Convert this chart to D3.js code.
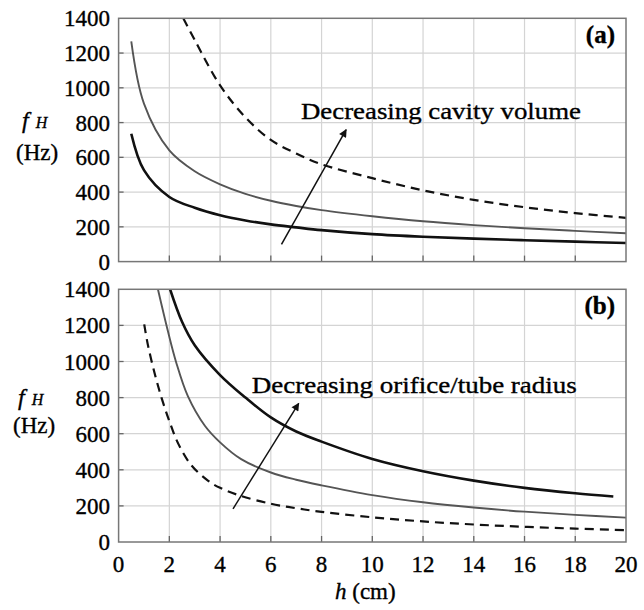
<!DOCTYPE html>
<meta charset="utf-8">
<style>
body{
  margin: 0;
  background: #fff;
}
svg{
  display: block;
  background-color: #fff;
}
text{
  font-family: "Liberation Serif", "Times New Roman", serif;
  fill: #000;
  stroke: #000;
  stroke-width: 0.35px;
}
</style>

<svg width="644" height="610"></svg>
<script src="https://d3js.org/d3.v7.min.js"></script>
<script>

// tick values
var xTicks = [0, 2, 4, 6, 8, 10, 12, 14, 16, 18, 20];
var yTicks = [0, 200, 400, 600, 800, 1000, 1200, 1400];

// panel (a): varying cavity volume, [h (cm), fH (Hz)]
var aBlack = [[0.5,736],[1,526],[2,372],[3,310],[4,267],[5,237],[6,214],[7,197],[8,181],[10,158],[12,143],[14,132],[16,123],[18,115],[20,107]];
var aGray  = [[0.5,1267],[1,909],[2,640],[3,520],[4,445],[5,390],[6,350],[7,320],[8,296],[10,261],[12,232],[14,210],[16,192],[18,177],[20,163]];
var aDash  = [[2.55,1400],[3,1275],[4,1014],[5,830],[6,700],[7,622],[8,560],[10,480],[12,410],[14,355],[16,313],[18,279],[20,252]];

// panel (b): varying orifice/tube radius
var bBlack = [[2.03,1400],[2.5,1220],[3,1090],[4,925],[5,800],[6,690],[7,612],[8,556],[10,460],[12,392],[14,340],[16,300],[18,270],[19.5,252]];
var bGray  = [[1.55,1400],[1.94,1170],[2.27,995],[2.73,808],[3.4,644],[4,552],[4.83,459],[6,385],[7,345],[8,314],[10,260],[12,220],[14,191],[16,168],[18,150],[20,135]];
var bDash  = [[1.01,1206],[1.15,1095],[1.42,935],[1.69,800],[2,670],[2.35,545],[2.87,425],[3.52,340],[4,300],[4.83,255],[6,212],[7,187],[8,167],[10,137],[12,114],[14,97],[16,84],[18,74],[20,66]];

var svg = d3.select("svg");

var x = d3.scaleLinear().domain([0, 20]).range([118.6, 626]);

var panels = [
  {id: "a", top: 18.3, bottom: 261.6, label: "(a)",
   series: [aDash, aGray, aBlack],
   note: "Decreasing cavity volume", noteAt: [7.19, 820], noteLen: 280,
   arrow: [[6.42, 99], [8.97, 759]]},
  {id: "b", top: 289.3, bottom: 542, label: "(b)",
   series: [bDash, bGray, bBlack],
   note: "Decreasing orifice/tube radius", noteAt: [5.25, 825], noteLen: 325,
   arrow: [[4.51, 184], [7.1, 768]]}
];

var styles = [
  {stroke: "#111", width: 2.2, dash: "9,6"},
  {stroke: "#555", width: 1.9, dash: null},
  {stroke: "#111", width: 2.6, dash: null}
];

var defs = svg.append("defs");
defs.append("marker")
    .attr("id", "arrowhead")
    .attr("viewBox", "0 0 10 10")
    .attr("refX", 9).attr("refY", 5)
    .attr("markerWidth", 9).attr("markerHeight", 8)
    .attr("markerUnits", "userSpaceOnUse")
    .attr("orient", "auto")
  .append("path")
    .attr("d", "M0,0L10,5L0,10Z")
    .attr("fill", "#111");

panels.forEach(function(p) {
  var y = d3.scaleLinear().domain([0, 1400]).range([p.bottom, p.top]);
  var g = svg.append("g");

  defs.append("clipPath").attr("id", "clip" + p.id)
    .append("rect")
      .attr("x", x(0)).attr("y", p.top)
      .attr("width", x(20) - x(0)).attr("height", p.bottom - p.top);

  // grid
  g.selectAll(".vg").data(xTicks.slice(1, -1)).enter().append("line")
      .attr("x1", d => x(d)).attr("x2", d => x(d))
      .attr("y1", p.top).attr("y2", p.bottom)
      .attr("stroke", "#d4d4d4").attr("stroke-width", 1.2);
  g.selectAll(".hg").data(yTicks.slice(1, -1)).enter().append("line")
      .attr("x1", x(0)).attr("x2", x(20))
      .attr("y1", d => y(d)).attr("y2", d => y(d))
      .attr("stroke", "#d4d4d4").attr("stroke-width", 1.2);

  // inward ticks
  g.selectAll(".xt").data(xTicks.slice(1, -1)).enter().append("line")
      .attr("x1", d => x(d)).attr("x2", d => x(d))
      .attr("y1", p.bottom).attr("y2", p.bottom - 6)
      .attr("stroke", "#666").attr("stroke-width", 1.3);
  g.selectAll(".yt").data(yTicks.slice(1, -1)).enter().append("line")
      .attr("x1", x(0)).attr("x2", x(0) + 5)
      .attr("y1", d => y(d)).attr("y2", d => y(d))
      .attr("stroke", "#666").attr("stroke-width", 1.3);

  // curves
  var line = d3.line()
      .x(d => x(d[0])).y(d => y(d[1]))
      .curve(d3.curveCatmullRom.alpha(0.5));
  g.append("g").attr("clip-path", "url(#clip" + p.id + ")")
    .selectAll("path").data(p.series).enter().append("path")
      .attr("d", line)
      .attr("fill", "none")
      .attr("stroke", (d, i) => styles[i].stroke)
      .attr("stroke-width", (d, i) => styles[i].width)
      .attr("stroke-dasharray", (d, i) => styles[i].dash);

  // frame
  g.append("rect")
      .attr("x", x(0)).attr("y", p.top)
      .attr("width", x(20) - x(0)).attr("height", p.bottom - p.top)
      .attr("fill", "none").attr("stroke", "#777").attr("stroke-width", 1.5);

  // y tick labels
  g.selectAll(".yl").data(yTicks).enter().append("text")
      .attr("x", 110).attr("y", d => y(d)).attr("dy", "0.35em")
      .attr("text-anchor", "end")
      .style("font-size", "23px")
      .text(d => d);

  // axis title
  var t = g.append("text")
      .attr("x", p.id === "a" ? 22 : 18)
      .attr("y", p.id === "a" ? 128 : 405)
      .style("font-size", "24px").style("font-style", "italic");
  t.append("tspan").text("f");
  t.append("tspan").attr("dx", 7).style("font-size", "16px").text("H");
  g.append("text")
      .attr("x", p.id === "a" ? 16 : 13)
      .attr("y", p.id === "a" ? 160 : 433)
      .style("font-size", "23px")
      .text("(Hz)");

  // panel label
  g.append("text")
      .attr("x", 615).attr("y", p.top + 25)
      .attr("text-anchor", "end")
      .style("font-size", "25px").style("font-weight", "bold")
      .text(p.label);

  // annotation
  g.append("line")
      .attr("x1", x(p.arrow[0][0])).attr("y1", y(p.arrow[0][1]))
      .attr("x2", x(p.arrow[1][0])).attr("y2", y(p.arrow[1][1]))
      .attr("stroke", "#111").attr("stroke-width", 1.5)
      .attr("marker-end", "url(#arrowhead)");
  g.append("text")
      .attr("x", x(p.noteAt[0])).attr("y", y(p.noteAt[1]))
      .attr("textLength", p.noteLen).attr("lengthAdjust", "spacingAndGlyphs")
      .style("font-size", "24px")
      .text(p.note);

  if (p.id === "b") {
    g.selectAll(".xl").data(xTicks).enter().append("text")
        .attr("x", d => x(d)).attr("y", 572)
        .attr("text-anchor", "middle")
        .style("font-size", "23px")
        .text(d => d);
    var xt = g.append("text")
        .attr("x", 335).attr("y", 599)
        .style("font-size", "23px");
    xt.append("tspan").style("font-style", "italic").text("h");
    xt.append("tspan").text("\u00a0(cm)");
  }
});

</script>
